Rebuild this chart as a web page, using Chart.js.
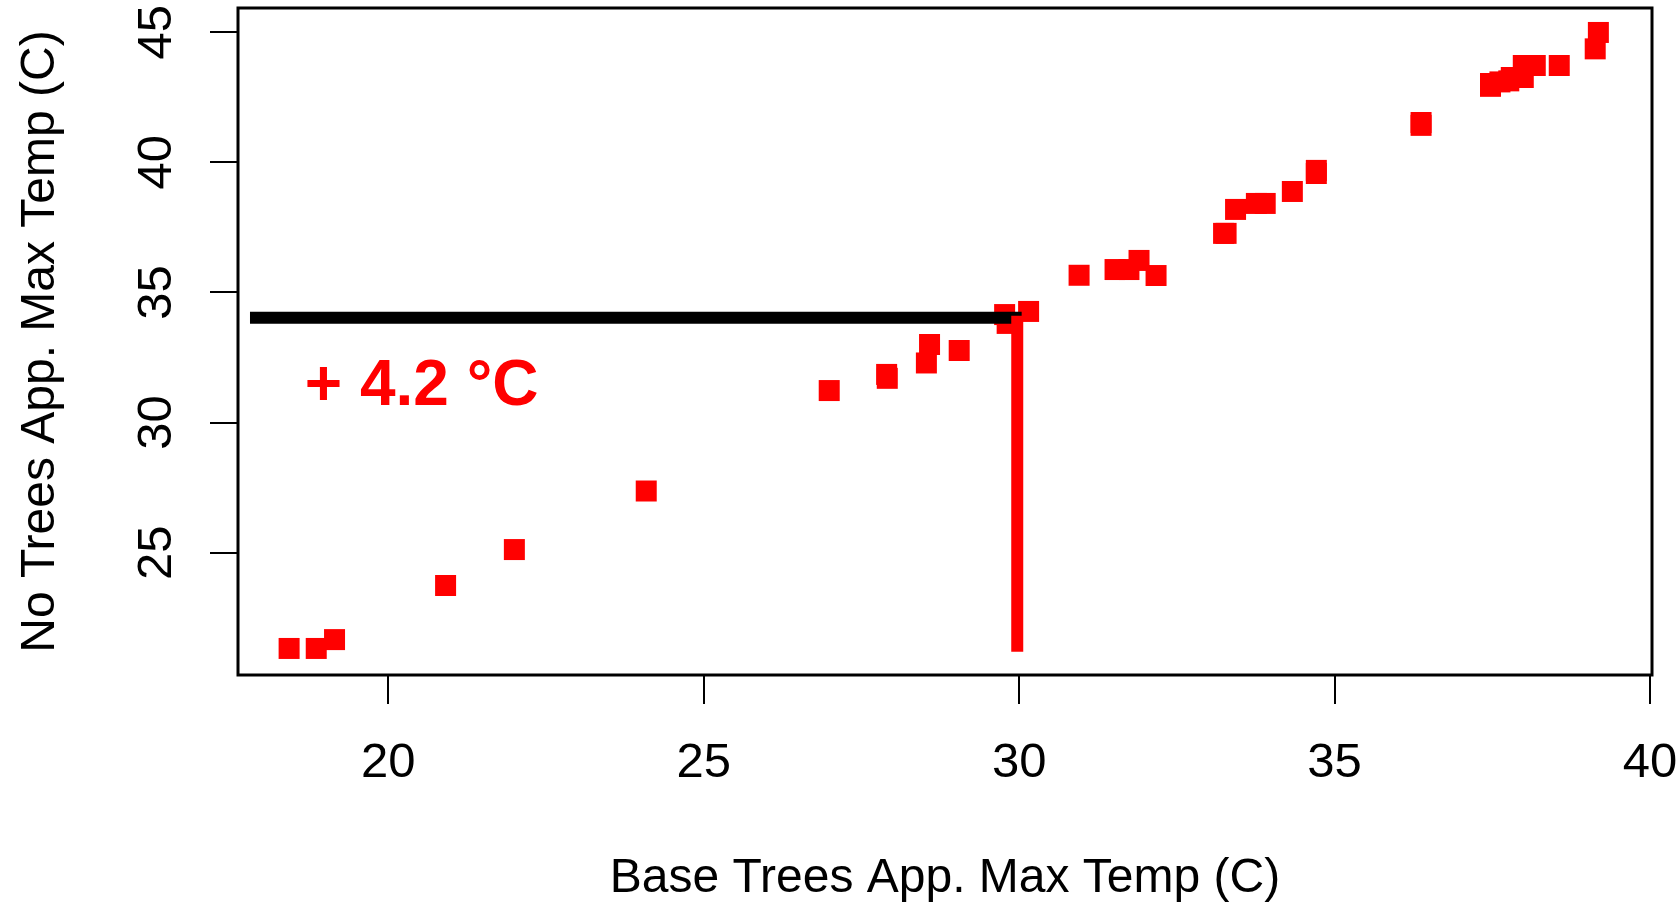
<!DOCTYPE html>
<html>
<head>
<meta charset="utf-8">
<title>Apparent maximum temperature: base trees vs no trees</title>
<script src="https://cdn.jsdelivr.net/npm/chart.js@4.4.1/dist/chart.umd.min.js"></script>
<style>
  html, body { margin: 0; padding: 0; background: #ffffff; }
  #wrap { width: 1678px; height: 908px; }
</style>
</head>
<body>
<div id="wrap"><canvas id="chart" width="1678" height="908"></canvas></div>
<script>
// Apparent max temperature (C) per day: base tree cover (x) vs. no trees (y)
const baseTreesTemp = [
  18.43, 18.86, 19.15, 20.91, 22.00, 24.09, 26.99, 27.90, 27.91, 28.53,
  28.58, 29.05, 29.77, 29.81, 30.15, 30.95, 31.52, 31.74, 31.90, 32.17,
  33.24, 33.28, 33.43, 33.76, 33.90, 34.33, 34.71, 34.71, 36.37, 36.37,
  37.47, 37.47, 37.62, 37.76, 37.80, 37.99, 37.99, 38.18, 38.56, 39.13,
  39.18
];
const noTreesTemp = [
  21.32, 21.32, 21.66, 23.74, 25.12, 27.37, 31.23, 31.85, 31.70, 32.29,
  33.00, 32.77, 34.15, 33.81, 34.27, 35.66, 35.88, 35.88, 36.23, 35.65,
  37.27, 37.27, 38.19, 38.42, 38.42, 38.88, 39.69, 39.57, 41.53, 41.42,
  43.03, 42.92, 43.09, 43.13, 43.26, 43.26, 43.72, 43.72, 43.72, 44.36,
  44.99
];

// Axis ranges and tick values
const xRange = [17.62, 40.03];
const yRange = [20.30, 45.93];
const xTickValues = [20, 25, 30, 35, 40];
const yTickValues = [25, 30, 35, 40, 45];

// Reference lines: horizontal level of the no-trees temperature, and the drop at 30 C
const levelLineX = [17.81, 30.04];
const levelLineY = [34.03, 34.03];
const dropLineX = [29.97, 29.97];
const dropLineY = [21.19, 34.10];

// Annotation text and its anchor (data coordinates, baseline centre)
const deltaText = '+ 4.2 °C';
const deltaAnchor = [20.53, 30.68];

const xTitle = 'Base Trees App. Max Temp (C)';
const yTitle = 'No Trees App. Max Temp (C)';

const FONT = "'Liberation Sans', Arial, Helvetica, sans-serif";

const toXY = (xs, ys) => xs.map((x, i) => ({ x: x, y: ys[i] }));

// Box around the plotting region
const framePlugin = {
  id: 'frame',
  afterDraw(chart) {
    const { ctx, chartArea: a } = chart;
    ctx.save();
    ctx.strokeStyle = '#000000';
    ctx.lineWidth = 3;
    ctx.strokeRect(a.left, a.top, a.right - a.left, a.bottom - a.top);
    ctx.restore();
  }
};

// Vertical (rotated) tick labels for the y axis
const yLabelPlugin = {
  id: 'yLabels',
  afterDraw(chart) {
    const { ctx } = chart;
    const ys = chart.scales.y;
    ctx.save();
    ctx.fillStyle = '#000000';
    ctx.font = '49px ' + FONT;
    ctx.textAlign = 'center';
    ctx.textBaseline = 'alphabetic';
    ys.ticks.forEach(t => {
      const py = ys.getPixelForValue(t.value);
      ctx.save();
      ctx.translate(171, py);
      ctx.rotate(-Math.PI / 2);
      ctx.fillText(String(t.value), 0, 0);
      ctx.restore();
    });
    ctx.restore();
  }
};

// Temperature difference annotation
const deltaPlugin = {
  id: 'delta',
  afterDatasetsDraw(chart) {
    const { ctx } = chart;
    const px = chart.scales.x.getPixelForValue(deltaAnchor[0]);
    const py = chart.scales.y.getPixelForValue(deltaAnchor[1]);
    ctx.save();
    ctx.fillStyle = '#ff0000';
    ctx.font = 'bold 64px ' + FONT;
    ctx.textAlign = 'center';
    ctx.textBaseline = 'alphabetic';
    ctx.fillText(deltaText, px, py);
    ctx.restore();
  }
};

new Chart(document.getElementById('chart'), {
  type: 'scatter',
  data: {
    datasets: [
      {
        label: 'drop',
        data: toXY(dropLineX, dropLineY),
        showLine: true,
        borderColor: '#ff0000',
        borderWidth: 12,
        borderCapStyle: 'butt',
        pointRadius: 0,
        order: 0
      },
      {
        label: 'level',
        data: toXY(levelLineX, levelLineY),
        showLine: true,
        borderColor: '#000000',
        borderWidth: 12,
        borderCapStyle: 'butt',
        pointRadius: 0,
        order: 1
      },
      {
        label: 'days',
        data: toXY(baseTreesTemp, noTreesTemp),
        pointStyle: 'rect',
        pointRadius: 14.85,
        pointHoverRadius: 14.85,
        backgroundColor: '#ff0000',
        borderWidth: 0,
        order: 2
      }
    ]
  },
  options: {
    responsive: false,
    animation: false,
    devicePixelRatio: 1,
    layout: { autoPadding: false, padding: { top: 8, right: 26, bottom: 0, left: 0 } },
    plugins: {
      legend: { display: false },
      tooltip: { enabled: false }
    },
    scales: {
      x: {
        type: 'linear',
        position: 'bottom',
        min: xRange[0],
        max: xRange[1],
        afterBuildTicks: s => { s.ticks = xTickValues.map(v => ({ value: v })); },
        afterFit: s => { s.height = 233; s.paddingLeft = 0; s.paddingRight = 0; },
        border: { display: false },
        grid: {
          drawOnChartArea: false,
          drawTicks: true,
          tickLength: 29,
          color: '#000000',
          lineWidth: 2
        },
        ticks: {
          color: '#000000',
          font: { family: FONT, size: 49, lineHeight: 1.2 },
          padding: 30,
          maxRotation: 0,
          minRotation: 0,
          autoSkip: false,
          callback: v => String(v)
        },
        title: {
          display: true,
          text: xTitle,
          color: '#000000',
          font: { family: FONT, size: 48, lineHeight: 1.2 },
          padding: { top: 0, bottom: 0 }
        }
      },
      y: {
        type: 'linear',
        position: 'left',
        min: yRange[0],
        max: yRange[1],
        afterBuildTicks: s => { s.ticks = yTickValues.map(v => ({ value: v })); },
        afterFit: s => { s.width = 238; s.paddingTop = 0; s.paddingBottom = 0; },
        border: { display: false },
        grid: {
          drawOnChartArea: false,
          drawTicks: true,
          tickLength: 28,
          color: '#000000',
          lineWidth: 2
        },
        ticks: { display: false },
        title: {
          display: true,
          text: yTitle,
          color: '#000000',
          font: { family: FONT, size: 48, lineHeight: 1.2 },
          padding: { top: 12, bottom: 0 }
        }
      }
    }
  },
  plugins: [framePlugin, yLabelPlugin, deltaPlugin]
});
</script>
</body>
</html>
